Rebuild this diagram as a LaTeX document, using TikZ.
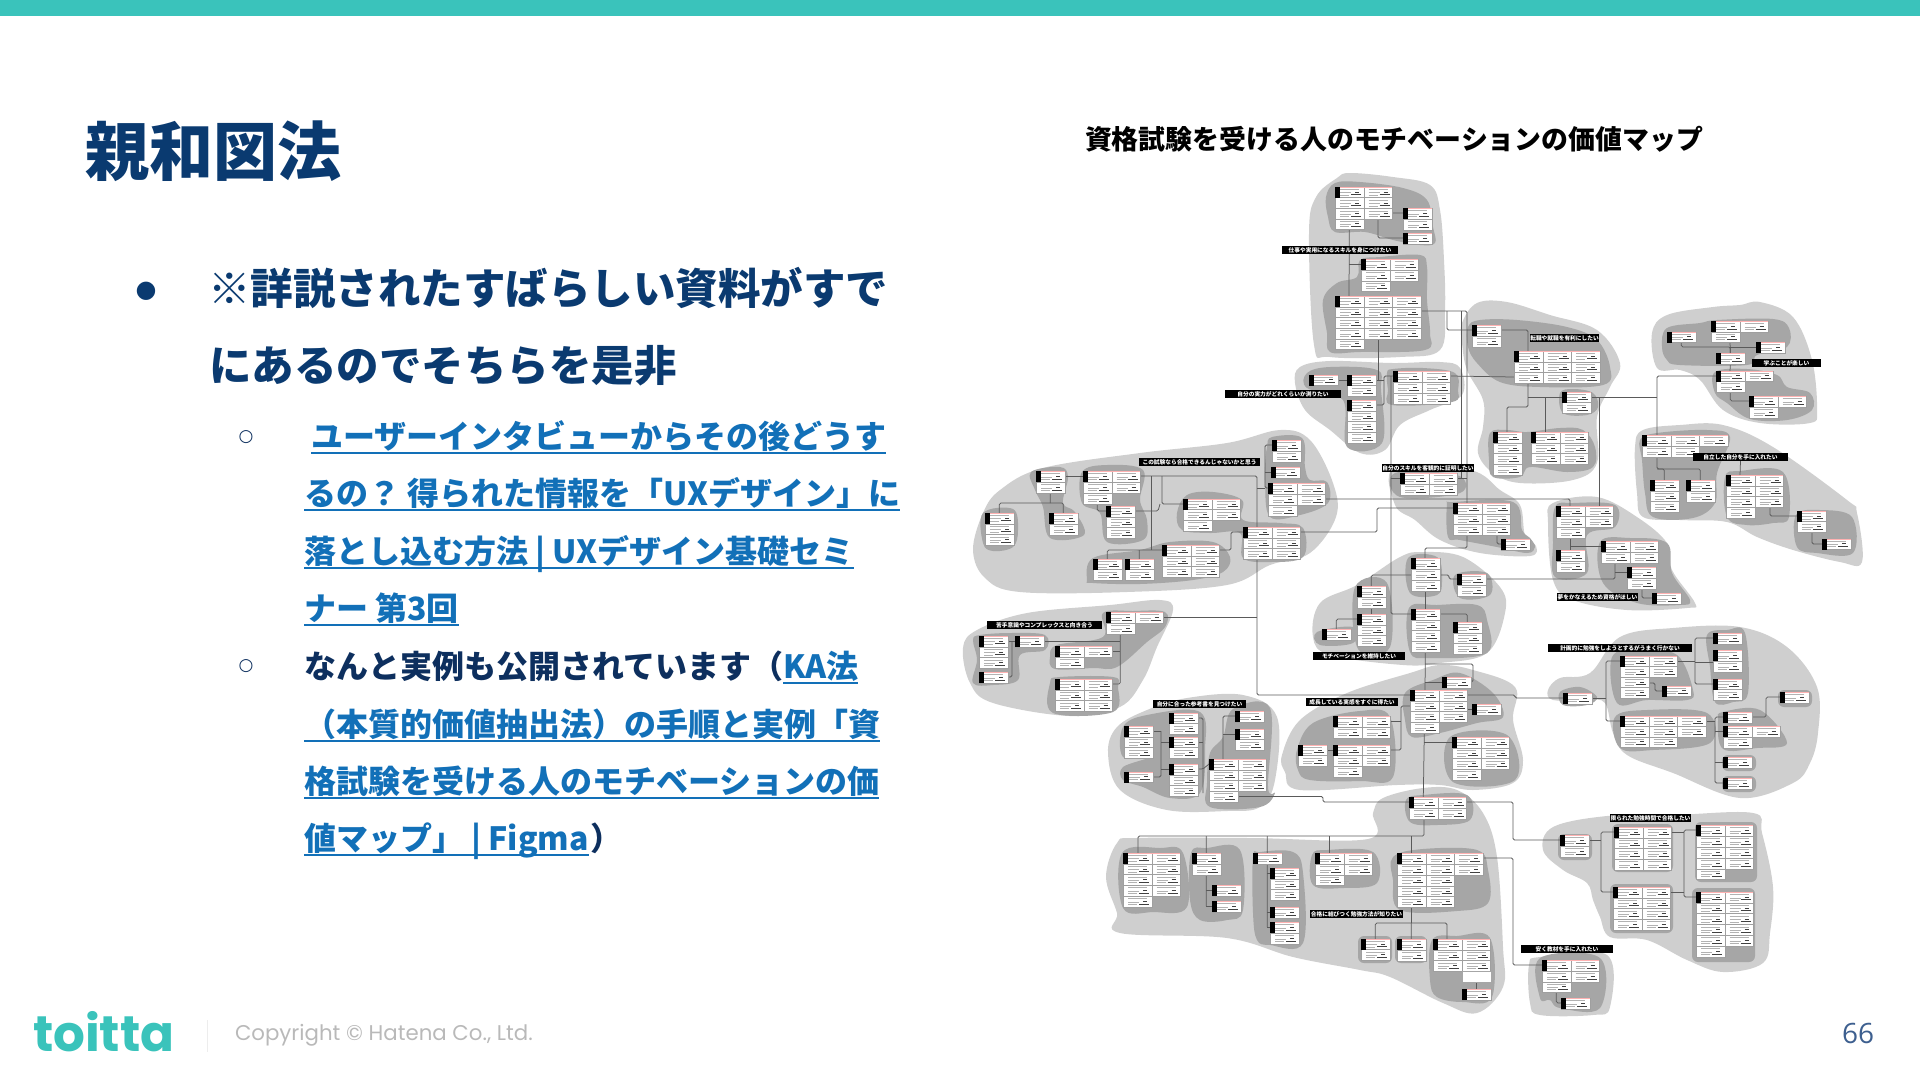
\documentclass[tikz,border=0pt]{standalone}
\usepackage{fontspec}
\newfontfamily\jp{Noto Sans CJK JP}
\newfontfamily\sy{DejaVu Sans}
\newfontfamily\pop{Poppins}
\newfontfamily\ops{Open Sans}
\definecolor{teal}{HTML}{3AC3BB}
\definecolor{navy}{HTML}{0A3A70}
\definecolor{ink}{HTML}{0D2F5E}
\definecolor{lnkc}{HTML}{1270B8}
\definecolor{blobL}{HTML}{CFCFCF}
\definecolor{blobD}{HTML}{A6A6A6}
\definecolor{wire}{HTML}{5A5A5A}
\definecolor{pgno}{HTML}{3D5F8F}
\pgfdeclarelayer{blob}
\pgfdeclarelayer{conn}
\pgfsetlayers{blob,conn,main}
\newcommand\fs[1]{\fontsize{#1}{#1}\selectfont}
\def\cw{28.67}
\tikzset{
 tbox/.style={fill=white,draw=gray!70,line width=.3,inner sep=0,outer sep=0,anchor=north west},
 cellgrid/.style={draw=gray!75,line width=.35},
 celltxt/.style={draw=gray!60,line width=.55},
 celldk/.style={draw=black!75,line width=.9},
 cn/.style={draw=wire,line width=.75,rounded corners=1.5},
 lbl/.style={fill=black,text=white,inner sep=0,outer sep=0,minimum height=8,font={\jp\bfseries\fs{5.7}}},
 txt/.style={anchor=base west,inner sep=0,outer sep=0},
}
\newcommand\cellfx[4]{%
 \draw[cellgrid] (#1,#2) rectangle ++(#3,#4);
 \draw[celltxt] ({#1+5},{#2+2.5}) -- ++(19,0);
 \draw[celltxt] ({#1+5},{#2+#4-5}) -- ++(11,0);
 \draw[celltxt] ({#1+5},{#2+#4-2.5}) -- ++(9,0);
 \draw[celldk] ({#1+16},{#2+#4-3}) -- ++(10,0);
 \draw[celldk,line width=.6] ({#1+20},{#2+#4-5.5}) -- ++(4,0);
}
% [extra cols]{name}{x}{y}{cols}{h}{extra h}
\newcommand\tb[7][1]{%
 \node[tbox,minimum width={#5*\cw},minimum height=#6] (#2) at (#3,#4) {};
 \coordinate (#2-l) at (#3,{#4+5});
 \coordinate (#2-r) at ({#3+#5*\cw},{#4+5});
 \pgfmathtruncatemacro\nr{max(1,round(#6/10.7))}
 \pgfmathsetmacro\rh{#6/\nr}
 \foreach \ca in {1,...,#5}{\foreach \ra in {1,...,\nr}{%
   \pgfmathsetmacro\mx{#3+(\ca-1)*\cw}\pgfmathsetmacro\my{#4+(\ra-1)*\rh}
   \cellfx{\mx}{\my}{\cw}{\rh}}}
 \ifdim #7pt>0pt
  \node[tbox,minimum width={#1*\cw},minimum height=#7] (#2x) at (#3,{#4+#6}) {};
  \pgfmathtruncatemacro\ne{max(1,round(#7/10.7))}
  \pgfmathsetmacro\eh{#7/\ne}
  \foreach \ca in {1,...,#1}{\foreach \ra in {1,...,\ne}{%
   \pgfmathsetmacro\mx{#3+(\ca-1)*\cw}\pgfmathsetmacro\my{#4+#6+(\ra-1)*\eh}
   \cellfx{\mx}{\my}{\cw}{\eh}}}
 \fi
 \draw[red!30,line width=.3] (#3,{#4+.6}) -- ++({#5*\cw},0);
 \fill[black] (#3,#4) rectangle ++(4.6,11);
}
\newcommand\blobL[1]{\fill[blobL] plot[smooth cycle,tension=.6] coordinates {#1};}
\newcommand\blobD[1]{\fill[blobD] plot[smooth cycle,tension=.6] coordinates {#1};}
\newcommand\boxD[4]{\fill[blobD,rounded corners=6] (#1,#2) rectangle (#3,#4);}
\newcommand\T[2]{([xshift=#2]#1.north west)}
\newcommand\B[2]{([xshift=#2]#1.south west)}
\newcommand\lnk[4]{\node[txt] (#1) at (#2,#3) {\jp\bfseries\fs{32}\color{lnkc}#4};
 \draw[lnkc,line width=2.4] ([yshift=-5]#1.base west) -- ([yshift=-5]#1.base east);}
\begin{document}
\begin{tikzpicture}[x=1pt,y=-1pt]
\useasboundingbox (0,0) rectangle (1920,1080);
\fill[teal] (0,0) rectangle (1920,16);
% ---- left text
\node[txt] (title) at (85,175) {\jp\bfseries\fs{64}\color{navy}親和図法};
\node (b1) at (146,291) {\sy\fs{24}\color{navy}●};
\node[txt] (l1a) at (208,304) {\jp\bfseries\fs{42.5}\color{navy}※詳説されたすばらしい資料がすで};
\node[txt] (l1b) at (209,381) {\jp\bfseries\fs{42.5}\color{navy}にあるのでそちらを是非};
\node (b2) at (246,437) {\sy\fs{17}\color{ink}○};
\lnk{s1a}{311}{448}{ユーザーインタビューからその後どうす}
\lnk{s1b}{304}{505}{るの？ 得られた情報を「UXデザイン」に}
\lnk{s1c}{304}{563}{落とし込む方法 | UXデザイン基礎セミ}
\lnk{s1d}{304}{620}{ナー 第3回}
\node (b3) at (246,666) {\sy\fs{17}\color{ink}○};
\node[txt] (s2a) at (304,678) {\jp\bfseries\fs{32}\color{ink}なんと実例も公開されています（};
\lnk{s2b}{783}{678}{KA法}
\lnk{s2c}{304}{736}{（本質的価値抽出法）の手順と実例「資}
\lnk{s2d}{304}{793}{格試験を受ける人のモチベーションの価}
\lnk{s2e}{304}{850}{値マップ」 | Figma}
\node[txt] (s2f) at (590,850) {\jp\bfseries\fs{32}\color{ink}）};
% ---- right title
\node[txt] (rt) at (1085,149) {\jp\bfseries\fs{26.9}\color{black}資格試験を受ける人のモチベーションの価値マップ};
% ---- footer
\node[txt] (logo) at (33,1051) {\pop\bfseries\fs{50}\color{teal}toitta};
\draw[black!7,line width=.8] (207,1020) -- (207,1052);
\node[txt] (copy) at (235,1040) {\pop\fs{21.3}\color{gray!55}Copyright © Hatena Co., Ltd.};
\node[txt] (pg) at (1842,1043) {\ops\fs{28}\color{pgno}66};
% ---- blobs
\begin{pgfonlayer}{blob}
\blobL{(1309,233)(1316,197)(1337,178)(1350,173)(1393,177)(1430,185)(1440,210)(1444,260)(1445,310)(1440,350)(1400,357)(1330,357)(1314,345)}
\blobL{(1295,383)(1300,367)(1330,361)(1393,363)(1440,362)(1460,368)(1462,395)(1430,410)(1400,425)(1385,450)(1360,453)(1330,430)(1305,410)}
\blobL{(973,550)(983,513)(1000,490)(1043,468)(1140,453)(1227,443)(1280,430)(1310,440)(1333,483)(1336,517)(1310,553)(1270,565)(1227,585)(1127,592)(1020,592)(985,578)}
\blobL{(1395,467)(1470,470)(1500,490)(1520,505)(1525,535)(1536,546)(1530,556)(1480,553)(1440,540)(1415,520)(1395,505)}
\blobL{(1462,323)(1477,303)(1507,302)(1550,315)(1597,330)(1620,363)(1610,387)(1597,417)(1597,463)(1573,480)(1520,483)(1493,473)(1478,453)(1483,427)(1483,400)(1467,370)(1462,343)}
\blobL{(1652,333)(1667,315)(1713,307)(1740,305)(1760,302)(1793,317)(1812,360)(1817,410)(1810,423)(1760,423)(1723,410)(1700,380)(1680,370)(1657,368)}
\blobL{(1635,447)(1643,430)(1680,425)(1723,425)(1773,447)(1847,500)(1857,513)(1862,562)(1840,562)(1793,550)(1757,537)(1727,522)(1680,520)(1643,517)(1637,493)}
\blobL{(1548,523)(1553,503)(1597,497)(1637,517)(1667,543)(1672,570)(1695,603)(1687,608)(1627,610)(1573,600)(1553,580)}
\blobL{(1313,637)(1320,603)(1357,585)(1400,557)(1423,552)(1463,557)(1500,587)(1505,613)(1487,653)(1440,663)(1403,665)(1330,655)}
\blobL{(1282,755)(1300,720)(1347,693)(1410,673)(1440,665)(1473,670)(1515,687)(1513,720)(1523,760)(1513,783)(1473,790)(1440,785)(1397,785)(1300,790)(1285,772)}
\blobL{(1106,877)(1117,843)(1137,838)(1250,838)(1368,839)(1373,813)(1383,798)(1423,788)(1457,790)(1483,813)(1497,857)(1503,947)(1503,987)(1477,1013)(1443,1003)(1390,977)(1360,970)(1293,957)(1227,938)(1120,933)(1117,913)}
\blobL{(963,648)(977,630)(1027,613)(1110,605)(1160,600)(1173,610)(1157,647)(1143,680)(1120,707)(1070,716)(993,703)(970,683)}
\blobL{(1108,753)(1117,727)(1147,710)(1187,698)(1243,695)(1277,717)(1275,780)(1260,807)(1227,811)(1167,810)(1120,790)}
\blobL{(1548,690)(1560,678)(1590,673)(1620,637)(1673,628)(1740,627)(1787,647)(1817,687)(1818,733)(1810,763)(1793,783)(1740,798)(1673,773)(1627,755)(1613,733)(1605,703)(1587,700)(1553,700)}
\blobL{(1543,850)(1553,827)(1607,816)(1673,815)(1753,813)(1762,833)(1773,887)(1770,933)(1763,963)(1723,972)(1687,960)(1647,940)(1610,937)(1600,917)(1593,900)(1587,883)(1563,870)}
\blobL{(1529,965)(1540,957)(1607,955)(1610,1007)(1593,1015)(1540,1015)(1530,1003)}
% dark
\blobD{(1326,197)(1335,183)(1360,182)(1403,188)(1427,200)(1433,227)(1435,243)(1420,245)(1393,240)(1365,232)(1335,232)(1328,217)}
\blobD{(1360,260)(1380,257)(1420,255)(1427,267)(1427,300)(1430,333)(1425,350)(1360,352)(1330,352)(1327,333)(1323,300)(1337,283)(1357,277)}
\blobD{(1307,373)(1330,367)(1377,370)(1381,390)(1382,443)(1347,447)(1343,400)(1307,388)}
\blobD{(1387,373)(1393,369)(1423,368)(1455,373)(1458,390)(1452,402)(1392,405)(1388,390)}
\blobD{(1267,447)(1272,437)(1302,438)(1305,467)(1310,480)(1327,482)(1328,503)(1300,515)(1270,517)(1265,483)(1265,467)}
\blobD{(1031,472)(1060,467)(1068,477)(1063,503)(1075,512)(1084,535)(1050,538)(1043,507)(1035,490)}
\blobD{(983,513)(1013,509)(1018,530)(1013,547)(993,551)(983,543)}
\blobD{(1082,472)(1107,465)(1143,470)(1140,500)(1147,520)(1143,540)(1107,542)(1100,513)(1082,503)}
\blobD{(1177,513)(1187,495)(1213,492)(1242,500)(1243,520)(1280,523)(1303,528)(1303,557)(1270,562)(1243,558)(1240,533)(1210,533)(1182,530)}
\blobD{(1087,580)(1093,558)(1140,550)(1170,542)(1213,542)(1230,557)(1223,572)(1193,580)(1140,584)(1093,583)}
\blobD{(1395,473)(1457,475)(1460,493)(1400,497)}
\blobD{(1447,505)(1453,502)(1513,502)(1522,530)(1530,538)(1535,547)(1527,553)(1497,547)(1460,540)(1448,537)}
\blobD{(1468,327)(1480,320)(1517,320)(1567,327)(1597,340)(1610,367)(1603,385)(1540,387)(1500,382)(1477,363)(1468,347)}
\blobD{(1560,393)(1573,389)(1593,393)(1598,407)(1587,415)(1563,413)}
\blobD{(1490,433)(1507,430)(1527,432)(1560,428)(1583,430)(1595,447)(1593,467)(1567,472)(1530,467)(1520,477)(1493,477)(1489,460)}
\blobD{(1662,347)(1667,328)(1700,323)(1717,320)(1773,319)(1789,328)(1787,347)(1757,355)(1747,365)(1680,365)(1667,360)}
\blobD{(1715,372)(1747,369)(1777,375)(1787,387)(1810,393)(1812,410)(1787,420)(1750,419)(1727,403)(1715,393)}
\blobD{(1640,440)(1657,433)(1707,430)(1730,437)(1717,473)(1715,503)(1693,518)(1653,517)(1645,493)(1642,460)}
\blobD{(1725,477)(1740,471)(1783,472)(1789,517)(1773,523)(1747,525)(1727,517)}
\blobD{(1796,515)(1820,510)(1852,517)(1853,553)(1817,553)(1797,547)}
\blobD{(1555,507)(1573,503)(1615,505)(1615,527)(1587,535)(1587,573)(1555,577)(1553,543)}
\blobD{(1600,542)(1630,538)(1667,543)(1672,573)(1690,600)(1680,605)(1637,603)(1603,583)}
\blobD{(1408,558)(1437,557)(1442,580)(1437,595)(1410,593)}
\blobD{(1455,575)(1487,573)(1490,595)(1460,598)}
\blobD{(1355,587)(1387,583)(1390,647)(1358,649)}
\blobD{(1317,632)(1353,627)(1353,643)(1320,645)}
\blobD{(1409,608)(1437,605)(1477,605)(1487,620)(1487,653)(1430,658)(1410,652)}
\blobD{(1297,750)(1313,723)(1360,711)(1390,717)(1393,777)(1360,781)(1310,780)(1298,770)}
\blobD{(1405,693)(1433,680)(1460,673)(1493,693)(1503,717)(1477,723)(1440,733)(1412,737)(1405,720)}
\blobD{(1450,737)(1507,735)(1515,780)(1453,782)}
\blobD{(1122,853)(1160,848)(1183,853)(1187,907)(1153,912)(1123,908)}
\blobD{(1191,853)(1207,848)(1240,850)(1243,910)(1227,920)(1200,920)(1190,900)}
\blobD{(1253,857)(1260,852)(1293,852)(1303,873)(1303,943)(1270,945)(1257,940)(1253,913)}
\blobD{(1312,855)(1327,850)(1373,852)(1377,883)(1343,888)(1313,885)}
\blobD{(1393,857)(1423,849)(1477,850)(1488,870)(1488,903)(1457,911)(1400,910)(1393,880)}
\blobD{(1406,800)(1423,795)(1467,795)(1470,820)(1437,825)(1410,822)}
\boxD{1358}{936}{1392}{963}
\boxD{1395}{936}{1427}{963}
\blobD{(1432,940)(1457,936)(1490,938)(1492,997)(1463,1002)(1437,997)(1430,980)}
\blobD{(1103,613)(1133,611)(1165,612)(1165,627)(1147,642)(1117,667)(1093,668)(1055,669)(1050,657)(1057,645)(1103,637)}
\blobD{(1050,683)(1060,677)(1113,677)(1118,687)(1113,712)(1053,713)}
\blobD{(973,640)(980,635)(1010,633)(1045,635)(1045,650)(1020,655)(1018,680)(993,685)(973,683)(977,660)}
\blobD{(1123,727)(1147,715)(1200,712)(1205,750)(1200,793)(1170,798)(1143,787)(1123,780)(1123,767)(1150,757)(1123,757)}
\blobD{(1233,709)(1270,708)(1268,787)(1275,793)(1260,807)(1210,807)(1207,783)(1210,753)(1223,737)}
\blobD{(1560,692)(1580,687)(1597,697)(1587,705)(1563,705)}
\blobD{(1612,657)(1640,650)(1677,655)(1693,690)(1687,700)(1647,700)(1617,703)}
\blobD{(1707,635)(1727,630)(1745,633)(1748,693)(1733,702)(1715,702)(1710,667)}
\boxD{1778}{690}{1812}{707}
\blobD{(1615,717)(1647,710)(1707,713)(1710,743)(1653,750)(1620,748)}
\blobD{(1718,720)(1723,712)(1760,710)(1787,743)(1757,748)(1723,749)}
\boxD{1722}{755}{1756}{771}
\boxD{1722}{776}{1756}{792}
\boxD{1558}{834}{1592}{860}
\boxD{1612}{824}{1673}{872}
\boxD{1610}{884}{1673}{933}
\boxD{1695}{822}{1757}{882}
\boxD{1692}{888}{1755}{962}
\blobD{(1540,958)(1600,958)(1600,1008)(1560,1008)(1550,1000)(1540,998)}
\end{pgfonlayer}
% ---- tables
\tb{a1}{1335}{187}{2}{32}{10}
\tb{a2}{1403}{208}{1}{22}{0}
\tb{a3}{1403}{233}{1}{11}{0}
\tb{a4}{1361}{259}{2}{22}{10}
\tb{a5}{1335}{296}{3}{43}{10}
\tb{b1}{1309}{375}{1}{10}{0}
\tb{b2}{1347}{375}{1}{21}{0}
\tb{b3}{1347}{400}{1}{43}{0}
\tb{b4}{1393}{371}{2}{33}{0}
\tb{s1}{1400}{473}{2}{22}{0}
\tb{c1}{1272}{440}{1}{22}{0}
\tb{c2}{1271}{467}{1}{11}{0}
\tb{c3}{1268}{483}{2}{22}{11}
\tb{c4}{1036}{471}{1}{22}{0}
\tb{c5}{1083}{471}{2}{22}{11}
\tb{c6}{1106}{506}{1}{32}{0}
\tb{c7}{1049}{513}{1}{22}{0}
\tb{c8}{985}{513}{1}{32}{0}
\tb{c9}{1183}{499}{2}{21}{11}
\tb{c10}{1243}{527}{2}{32}{0}
\tb{c11}{1162}{545}{2}{32}{0}
\tb{c12}{1093}{559}{1}{21}{0}
\tb{c13}{1125}{559}{1}{21}{0}
\tb{d1}{1472}{325}{1}{22}{0}
\tb{d2}{1514}{351}{3}{32}{0}
\tb{d3}{1562}{392}{1}{21}{0}
\tb{d4}{1493}{432}{1}{43}{0}
\tb{d5}{1531}{432}{2}{32}{0}
\tb{e1}{1667}{332}{1}{10}{0}
\tb{e2}{1711}{321}{2}{11}{10}
\tb{e3}{1756}{342}{1}{11}{0}
\tb{e4}{1716}{353}{1}{11}{0}
\tb{e5}{1716}{371}{2}{10}{11}
\tb{e6}{1749}{396}{2}{11}{11}
\tb[2]{f1}{1642}{435}{3}{11}{11}
\tb{f2}{1650}{480}{1}{32}{0}
\tb{f3}{1686}{480}{1}{22}{0}
\tb{f4}{1726}{475}{2}{32}{11}
\tb{f5}{1797}{511}{1}{21}{0}
\tb{f6}{1822}{539}{1}{10}{0}
\tb{g1}{1556}{506}{2}{21}{11}
\tb{g2}{1556}{550}{1}{22}{0}
\tb{g3}{1601}{541}{2}{22}{0}
\tb{g4}{1627}{567}{1}{22}{0}
\tb{g5}{1652}{593}{1}{11}{0}
\tb{h1}{1453}{503}{2}{32}{0}
\tb{h2}{1501}{539}{1}{11}{0}
\tb{i1}{1457}{574}{1}{22}{0}
\tb{ra}{1411}{558}{1}{33}{0}
\tb{rc}{1357}{586}{1}{22}{0}
\tb{rd}{1357}{614}{1}{32}{0}
\tb{re}{1322}{629}{1}{11}{0}
\tb{rf}{1411}{609}{1}{43}{0}
\tb{rg}{1453}{622}{1}{32}{0}
\tb{j1}{1442}{677}{1}{11}{0}
\tb{q1}{1410}{690}{2}{32}{11}
\tb{j3}{1472}{704}{1}{11}{0}
\tb{j4}{1452}{737}{2}{32}{11}
\tb{p1}{1333}{716}{2}{22}{0}
\tb{p2}{1298}{745}{1}{21}{0}
\tb{p3}{1333}{745}{2}{21}{11}
\tb{k1}{1563}{693}{1}{11}{0}
\tb{k2}{1620}{656}{2}{21}{21}
\tb{k3}{1662}{686}{1}{10}{0}
\tb{k4}{1713}{633}{1}{11}{0}
\tb{k5}{1713}{650}{1}{22}{0}
\tb{k6}{1713}{679}{1}{21}{0}
\tb{k7}{1780}{692}{1}{11}{0}
\tb[2]{k8}{1620}{716}{3}{21}{10}
\tb{k9}{1723}{712}{1}{11}{0}
\tb{k10}{1723}{726}{2}{11}{11}
\tb{k11}{1723}{757}{1}{11}{0}
\tb{k12}{1723}{778}{1}{11}{0}
\tb{l1}{1560}{835}{1}{22}{0}
\tb{l2}{1614}{827}{2}{43}{0}
\tb{l3}{1613}{887}{2}{43}{0}
\tb{l4}{1696}{825}{2}{44}{10}
\tb{l5}{1696}{892}{2}{54}{11}
\tb{m1}{1542}{960}{2}{22}{10}
\tb{m2}{1561}{998}{1}{11}{0}
\tb{n1}{1106}{612}{2}{11}{11}
\tb{n2}{1015}{636}{1}{11}{0}
\tb{n3}{979}{636}{1}{32}{0}
\tb{n4}{979}{672}{1}{11}{0}
\tb{n5}{1055}{646}{2}{11}{11}
\tb{n6}{1055}{679}{2}{32}{0}
\tb{o1}{1124}{726}{1}{32}{0}
\tb{o2}{1124}{772}{1}{10}{0}
\tb{o3}{1169}{713}{1}{21}{0}
\tb{o4}{1169}{737}{1}{21}{0}
\tb{o5}{1169}{764}{1}{32}{0}
\tb{o6}{1235}{711}{1}{11}{0}
\tb{o7}{1235}{729}{1}{21}{0}
\tb{o8}{1209}{759}{2}{32}{11}
\tb{s0}{1409}{797}{2}{22}{0}
\tb{t1}{1123}{853}{2}{43}{11}
\tb{t2}{1192}{853}{1}{22}{0}
\tb{t3}{1212}{885}{1}{11}{0}
\tb{t4}{1212}{901}{1}{11}{0}
\tb{t5}{1253}{853}{1}{11}{0}
\tb{t6}{1270}{868}{1}{32}{0}
\tb{t7}{1270}{907}{1}{11}{0}
\tb{t8}{1270}{922}{1}{22}{0}
\tb{t9}{1315}{853}{2}{22}{10}
\tb[2]{t10}{1397}{853}{3}{22}{32}
\tb{u1}{1361}{939}{1}{21}{0}
\tb{u2}{1397}{939}{1}{22}{0}
\tb{u3}{1433}{939}{2}{32}{0}
\node[tbox,minimum width=28.67,minimum height=11] (u3b) at (1462,971) {};
\tb{u4}{1462}{989}{1}{11}{0}
% ---- labels
\node[lbl,minimum width=116] (L1) at (1340,250) {仕事や実用になるスキルを身につけたい};
\node[lbl,minimum width=116] (L2) at (1283,394) {自分の実力がどれくらいか測りたい};
\node[lbl,minimum width=121] (L3) at (1199.5,462) {この試験なら合格できるんじゃないかと思う};
\node[lbl,minimum width=92] (L4) at (1428,468) {自分のスキルを客観的に証明したい};
\node[lbl,minimum width=69] (L5) at (1564.5,338) {転職や就職を有利にしたい};
\node[lbl,minimum width=69] (L6) at (1786.5,363) {学ぶことが楽しい};
\node[lbl,minimum width=95] (L7) at (1740.5,457) {自立した自分を手に入れたい};
\node[lbl,minimum width=81] (L8) at (1597.5,597) {夢をかなえるため資格がほしい};
\node[lbl,minimum width=144] (L9) at (1620,648) {計画的に勉強をしようとするがうまく行かない};
\node[lbl,minimum width=92] (L10) at (1359,656) {モチベーションを維持したい};
\node[lbl,minimum width=115] (L11) at (1044.5,625) {苦手意識やコンプレックスと向き合う};
\node[lbl,minimum width=93] (L12) at (1199.5,704) {自分に合った参考書を見つけたい};
\node[lbl,minimum width=92] (L13) at (1352,702) {成長している実感をすぐに得たい};
\node[lbl,minimum width=93] (L14) at (1356.5,914) {合格に結びつく勉強方法が知りたい};
\node[lbl,minimum width=81] (L15) at (1650.5,818) {限られた勉強時間で合格したい};
\node[lbl,minimum width=92] (L16) at (1567,949) {安く教材を手に入れたい};
% ---- connectors
\begin{pgfonlayer}{conn}
\draw[cn] (a1x.south) -- \T{a5}{14};
\draw[cn] (a4-l) -- (1349,264);
\draw[cn] \B{a1}{43} |- (a2-l);
\draw[cn] \B{a1}{43} |- (a3-l);
\draw[cn] ([yshift=-15]a5.north east) -- (1467,311) -- (1467,548) -- (1425,548) -- \T{ra}{14};
\draw[cn] (1447,311) |- (d1-l);
\draw[cn] (1461,311) -- (1461,478);
\draw[cn] (s1-r) -- (1467,478);
\draw[cn] \B{a5}{43} -- (1378,380);
\draw[cn] (b2-r) -- (1384,380);
\draw[cn] (b3-r) -| (1384,376) -- (b4-l);
\draw[cn] (1391,376) -- (1391,614) -- (rf-l);
\draw[cn] (1391,478) -- (s1-l);
\draw[cn] (b1-r) -- (b2-l);
\draw[cn] (b4-r) -- ([yshift=-26]d2.north west);
\draw[cn] (d1-r) -| \T{d2}{14};
\draw[cn] \B{d2}{14} -- (1528,407) -| \T{d4}{14};
\draw[cn] (1528,397) -- (d3-l);
\draw[cn] (1545,397) -- \T{d5}{14};
\draw[cn] (d3-r) -- (1657,397);
\draw[cn] (1599,397) -- \T{g1}{43};
\draw[cn] \T{f1}{15} |- (e5-l);
\draw[cn] (e1.south) -- (1681.3,347) -| (e4.north);
\draw[cn] ([xshift=19]e2x.south west) -- (e4.north);
\draw[cn] (e3-l) -- (1730,347);
\draw[cn] (e4.south) -- \T{e5}{14};
\draw[cn] (e5x.south) |- (e6-l);
\draw[cn] ([xshift=15]f1x.south west) -- (1657,469) -| (f2.north);
\draw[cn] (1657,469) -| (f3.north);
\draw[cn] (L7.south) -- \T{f4}{14};
\draw[cn] \B{f4}{44} |- (f5-l);
\draw[cn] \B{f5}{15} |- (f6-l);
\draw[cn] (g1x.south) -- (g2.north);
\draw[cn] (1570,546) -- (g3-l);
\draw[cn] (i1-r) -- (1615,579) -- \B{g3}{14};
\draw[cn] (1615,572) -- (g4-l);
\draw[cn] \B{g4}{15} |- (g5-l);
\draw[cn] (c10-r) -| (1377,508) -- (h1-l);
\draw[cn] \B{h1}{44} |- (h2-l);
\draw[cn] ([yshift=-16]c3.north east) -| \T{g1}{14};
\draw[cn] ([yshift=-17]ra.north west) -| (rc.north);
\draw[cn] (ra.south) -- (rf.north);
\draw[cn] ([yshift=-17]ra.north east) -- (1449,575) -- (1449,579) -- (i1-l);
\draw[cn] (rc.south) -- (rd.north);
\draw[cn] (rd-l) -| (re.north);
\draw[cn] (rf-r) -| (rg.north);
\draw[cn] (rf.south) -- \T{q1}{15};
\draw[cn] (1425,664) -- (1473,664) -- (1473,682) -- (j1-r);
\draw[cn] (j1-l) -- (1425,682);
\draw[cn] (c5-r) -| (1257,695) -- (q1-l);
\draw[cn] (n1-r) -- (1257,617);
\draw[cn] (q1-r) -- (1515,695) -- (1515,698) -- (k1-l);
\draw[cn] (1151,476) -- (1151,550);
\draw[cn] (c12.north) |- (c11-l);
\draw[cn] (c13.north) -- (1139.3,550);
\draw[cn] (1162,476) -- (1162,504) -- (c9-l);
\draw[cn] (c6-r) -- (1158,511) -- (1160,504);
\draw[cn] (c4-r) -- (c5-l);
\draw[cn] (c8.north) -- (999.3,503) -- (1063.3,503) -- (c7.north);
\draw[cn] (c4.south) -- (1050.3,503);
\draw[cn] (c5x.south) |- (c6-l);
\draw[cn] (c11-r) -- (1231,550) -- (1231,532) -- (c10-l);
\draw[cn] (c1-l) -- (1265,445) -- (1265,488) -- (c3-l);
\draw[cn] (c2-l) -- (1265,472);
\draw[cn] (1257,488) -- (1265,488);
\draw[cn] (n1x.south) -- (1120.3,684) -- (n6-r);
\draw[cn] (n2-r) -- (1120,641);
\draw[cn] (n5-r) -- (1120,651);
\draw[cn] (n3-r) -- (n2-l);
\draw[cn] (1012,641) |- (n4-r);
\draw[cn] (o1-r) -- (1161,731);
\draw[cn] (1161,731) -- (1161,777) -- (o2-r);
\draw[cn] (o4-l) -- (1161,742);
\draw[cn] (o5-l) -- (1161,769);
\draw[cn] (o3-r) -- (1203,718) -- (1203,793);
\draw[cn] (o4-r) -- (1203,742);
\draw[cn] (o5-r) -- (1203,769) -- (o8-l);
\draw[cn] \T{o8}{14} |- (o6-l);
\draw[cn] (o7-l) -- (1223,734);
\draw[cn] (o8x.east) -- (1323,796.5) -- (1323,802) -- (s0-l);
\draw[cn] (s0-r) -| (1513,840) -- (l1-l);
\draw[cn] ([yshift=-16]q1.north west) -- (1401,706) -- (1401,750) -- (p3-r);
\draw[cn] (p1-r) -- (1401,721);
\draw[cn] (p2-r) -- (p3-l);
\draw[cn] ([yshift=-19]q1.north east) -- (j3-l);
\draw[cn] ([xshift=14.3]q1x.south west) -- \T{s0}{14.3};
\draw[cn] (1424,742) -- (j4-l);
\draw[cn] \B{s0}{15} -- (1424,836) -- (1138,836) -- \T{t1}{15};
\draw[cn] (1206.3,836) -- (t2.north);
\draw[cn] (1267.3,836) -- (t5.north);
\draw[cn] (1329,836) -- \T{t9}{14};
\draw[cn] (1411,836) -- \T{t10}{14};
\draw[cn] (t2.south) -- (1206.3,906);
\draw[cn] (t3-l) -- (1206.3,890);
\draw[cn] (t4-l) -- (1206.3,906);
\draw[cn] (t5.south) -- (1267.3,927);
\draw[cn] (t6-l) -- (1267.3,873);
\draw[cn] (t7-l) -- (1267.3,912);
\draw[cn] (t8-l) -- (1267.3,927);
\draw[cn] ([xshift=14]t10x.south west) -- (1411,923);
\draw[cn] (u1.north) -- (1375.3,923) -- (1447,923) -- \T{u3}{14};
\draw[cn] (u2.north) -- (1411.3,923);
\draw[cn] (u3b.south) -- (u4.north);
\draw[cn] ([yshift=-5]t10.north east) -- (1513,858) -- (1513,965) -- (m1-l);
\draw[cn] (m1x.south) |- (m2-l);
\draw[cn] (l1-r) -- (1601,840);
\draw[cn] (l2-l) -- (1601,832) -- (1601,892) -- (l3-l);
\draw[cn] (l2-r) -- (1684,832);
\draw[cn] (l3-r) -- (1684,892);
\draw[cn] (l4-l) -- (1684,830) -- (1684,897) -- (l5-l);
\draw[cn] (k1-r) -- (1606,698);
\draw[cn] (k2-l) -- (1606,661) -- (1606,721) -- (k8-l);
\draw[cn] (k2-r) -- (1695,661);
\draw[cn] (k4-l) -- (1695,638) -- (1695,684) -- (k6-l);
\draw[cn] ([yshift=-12]k5.north west) -- (1695,662);
\draw[cn] ([yshift=-6]k2x.north east) -- (1655,683) |- (k3-l);
\draw[cn] (k8-r) -- (1715,721);
\draw[cn] (k9-l) -- (1715,717) -- (1715,783) -- (k12-l);
\draw[cn] (k10-l) -- (1715,731);
\draw[cn] (k11-l) -- (1715,762);
\draw[cn] (k9-r) -- (1766,717) |- (k7-l);
\end{pgfonlayer}
\end{tikzpicture}
\end{document}
